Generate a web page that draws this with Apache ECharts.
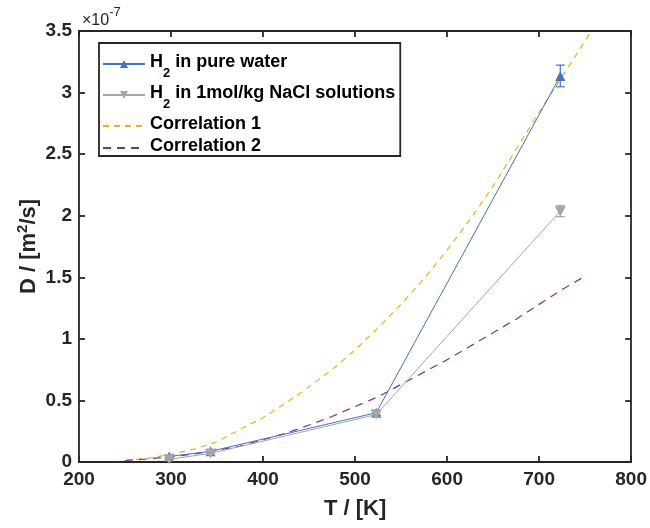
<!DOCTYPE html>
<html>
<head>
<meta charset="utf-8">
<script src="https://cdn.jsdelivr.net/npm/echarts@6/dist/echarts.min.js"></script>
<style>
html,body{margin:0;padding:0;background:#fff;}
#chart{width:650px;height:528px;}
</style>
</head>
<body>
<div id="chart"></div>
<script>
// Experimental data (D in units of 1e-7 m^2/s)
const T_exp = [298, 343, 523, 723];
const D_water = [0.045, 0.087, 0.400, 3.135];
const err_water = [0.010, 0.010, 0.020, 0.088];
const D_nacl = [0.022, 0.070, 0.385, 2.037];
const err_nacl = [0.010, 0.010, 0.020, 0.045];

// Correlations
const T_corr1 = [250, 275, 300, 325, 350, 375, 400, 425, 450, 475, 500, 525, 550, 575, 600, 625, 650, 675, 700, 725, 750, 757];
const D_corr1 = [0.012, 0.030, 0.062, 0.105, 0.165, 0.265, 0.360, 0.480, 0.610, 0.750, 0.910, 1.090, 1.280, 1.490, 1.720, 1.970, 2.240, 2.540, 2.840, 3.130, 3.420, 3.500];
const T_corr2 = [250, 275, 300, 325, 350, 375, 400, 425, 450, 475, 500, 525, 550, 575, 600, 625, 650, 675, 700, 725, 750];
const D_corr2 = [0.012, 0.025, 0.043, 0.065, 0.095, 0.130, 0.180, 0.235, 0.300, 0.370, 0.450, 0.530, 0.630, 0.730, 0.830, 0.940, 1.050, 1.160, 1.280, 1.400, 1.510];

const xTicks = [200, 300, 400, 500, 600, 700, 800];
const yTicks = [0, 0.5, 1, 1.5, 2, 2.5, 3, 3.5];

const names = ['H2 in pure water', 'H2 in 1mol/kg NaCl solutions', 'Correlation 1', 'Correlation 2'];

const AX = '#262626';
const FONT = '"Liberation Sans", Arial, Helvetica, sans-serif';
const BLUE = '#4472C4';
const GRAY = '#A5A5A5';
const YEL = '#EDB120';
const PUR = '#7E2F8E';

function pairs(xs, ys){ return xs.map((x,i)=>[x, ys[i]]); }
function errData(xs, ys, es){ return xs.map((x,i)=>[x, ys[i]-es[i], ys[i]+es[i]]); }

function errRender(color){
  return function(params, api){
    const x = api.value(0);
    const lo = api.coord([x, api.value(1)]);
    const hi = api.coord([x, api.value(2)]);
    const w = 4.5;
    const st = {stroke: color, lineWidth: 1.2};
    return {type:'group', children:[
      {type:'line', shape:{x1:lo[0], y1:lo[1], x2:hi[0], y2:hi[1]}, style:st},
      {type:'line', shape:{x1:lo[0]-w, y1:lo[1], x2:lo[0]+w, y2:lo[1]}, style:st},
      {type:'line', shape:{x1:hi[0]-w, y1:hi[1], x2:hi[0]+w, y2:hi[1]}, style:st}
    ]};
  };
}

const axisCommon = {
  type: 'value',
  axisLine: {show: true, onZero: false, lineStyle: {color: AX, width: 1.8}},
  axisTick: {show: true, inside: true, length: 6, lineStyle: {color: AX, width: 1.8}},
  splitLine: {show: false}
};

const chart = echarts.init(document.getElementById('chart'), null, {renderer: 'canvas'});
const option = {
  backgroundColor: '#fff',
  animation: false,
  grid: {left: 79, right: 18, top: 31, bottom: 66, containLabel: false},
  xAxis: [
    Object.assign({}, axisCommon, {
      min: 200, max: 800, interval: 100, position: 'bottom',
      axisLabel: {show: true, color: AX, fontSize: 19, fontWeight: 'bold', fontFamily: FONT, margin: 8},
      name: 'T / [K]', nameLocation: 'middle', nameGap: 36, nameMoveOverlap: false,
      nameTextStyle: {color: AX, fontSize: 22, fontWeight: 'bold', fontFamily: FONT}
    }),
    Object.assign({}, axisCommon, {
      min: 200, max: 800, interval: 100, position: 'top', axisLabel: {show: false}
    })
  ],
  yAxis: [
    Object.assign({}, axisCommon, {
      min: 0, max: 3.5, interval: 0.5, position: 'left',
      axisLabel: {show: true, color: AX, fontSize: 19, fontWeight: 'bold', fontFamily: FONT, margin: 7},
      name: '{n|D / [m}{s|2}{n|/s]}', nameLocation: 'middle', nameGap: 39, nameRotate: 90, nameMoveOverlap: false,
      nameTextStyle: {color: AX, fontSize: 22, fontWeight: 'bold', fontFamily: FONT,
        rich: {
          n: {fontSize: 22, fontWeight: 'bold', fontFamily: FONT, color: AX, verticalAlign: 'bottom', lineHeight: 24},
          s: {fontSize: 15, fontWeight: 'bold', fontFamily: FONT, color: AX, verticalAlign: 'bottom', padding: [0,0,10,0]}
        }}
    }),
    Object.assign({}, axisCommon, {
      min: 0, max: 3.5, interval: 0.5, position: 'right', axisLabel: {show: false}
    })
  ],
  legend: {
    show: true,
    data: [
      {name: names[0]},
      {name: names[1]},
      {name: names[2], itemStyle: {opacity: 0}},
      {name: names[3], itemStyle: {opacity: 0}}
    ],
    orient: 'vertical',
    left: 99, top: 43,
    itemWidth: 42, itemHeight: 10, itemGap: 4,
    padding: [10, 5, 1, 3],
    borderColor: AX, borderWidth: 1.8, backgroundColor: '#fff',
    textStyle: {color: '#000', fontSize: 18, fontWeight: 'bold', fontFamily: FONT,
      rich: {
        b: {fontSize: 18, fontWeight: 'bold', fontFamily: FONT, color: '#000', verticalAlign: 'top', lineHeight: 22},
        s: {fontSize: 13, fontWeight: 'bold', fontFamily: FONT, color: '#000', verticalAlign: 'top', lineHeight: 14, padding: [14,0,0,0]}
      }},
    formatter: function(name){
      if (name.indexOf('H2') === 0) {
        return '{b|H}{s|2}{b|' + name.slice(2) + '}';
      }
      return '{b|' + name + '}';
    }
  },
  graphic: [{
    type: 'text', left: 82, top: 6,
    style: {
      text: '{a|×10}{p|-7}',
      rich: {
        a: {fontSize: 16, fontFamily: FONT, fill: AX, verticalAlign: 'top', lineHeight: 16, padding: [7,0,0,0]},
        p: {fontSize: 13, fontFamily: FONT, fill: AX, verticalAlign: 'top', lineHeight: 13}
      }
    }
  }],
  series: [
    {
      name: names[2], type: 'line', data: pairs(T_corr1, D_corr1), showSymbol: false, symbol: 'none',
      lineStyle: {color: YEL, width: 1.2, type: [6, 5]}, itemStyle: {color: YEL}, z: 2, clip: true
    },
    {
      name: names[3], type: 'line', data: pairs(T_corr2, D_corr2), showSymbol: false, symbol: 'none',
      lineStyle: {color: PUR, width: 1.2, type: [8, 6]}, itemStyle: {color: PUR}, z: 2, clip: true
    },
    {
      name: names[0], type: 'line', data: pairs(T_exp, D_water),
      symbol: 'triangle', symbolSize: 10,
      lineStyle: {color: BLUE, width: 1}, itemStyle: {color: BLUE}, z: 4
    },
    {
      name: names[0], type: 'custom', data: errData(T_exp, D_water, err_water),
      renderItem: errRender(BLUE), z: 4, encode: {x: 0, y: [1, 2]}
    },
    {
      name: names[1], type: 'line', data: pairs(T_exp, D_nacl),
      symbol: 'path://M0,0 L10,0 L5,9 Z', symbolSize: [11, 10],
      lineStyle: {color: GRAY, width: 1}, itemStyle: {color: GRAY}, z: 5
    },
    {
      name: names[1], type: 'custom', data: errData(T_exp, D_nacl, err_nacl),
      renderItem: errRender(GRAY), z: 5, encode: {x: 0, y: [1, 2]}
    }
  ]
};
chart.setOption(option);
</script>
</body>
</html>
